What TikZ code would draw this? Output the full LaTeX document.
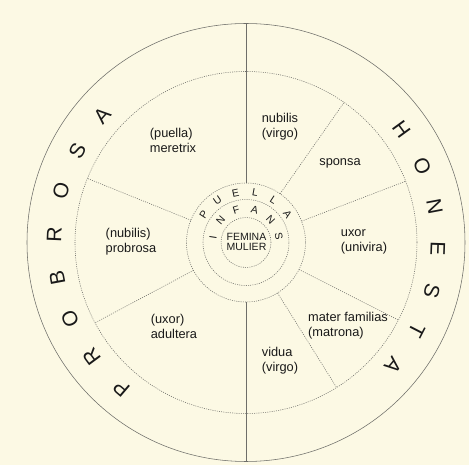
\documentclass[tikz,border=0pt]{standalone}
\usepackage{fontspec}
\setmainfont{Liberation Sans}
\usetikzlibrary{positioning}
\definecolor{paper}{RGB}{252,249,228}
\definecolor{ink}{RGB}{25,25,25}
\definecolor{rule}{RGB}{110,110,105}

\begin{document}
\begin{tikzpicture}[x=1pt,y=1pt,
 ring/.style={circle,draw=rule,line width=0.55pt,outer sep=0pt,inner sep=0pt},
 dotring/.style={ring,dash pattern=on 1pt off 1.2pt},
 spoke/.style={draw=rule,line width=0.55pt,dash pattern=on 1pt off 1.2pt},
 lab/.style={align=left,text=ink,font=\fontsize{12.8}{15}\selectfont,inner sep=0pt},
 big/.style={text=ink,font=\fontsize{21}{21}\selectfont,inner sep=0pt},
 small/.style={text=ink,font=\fontsize{10.5}{10}\selectfont,inner sep=0pt}]
\fill[paper] (-246,-222.5) rectangle (223,242.5);
\useasboundingbox (-246,-222.5) rectangle (223,242.5);
% rings
\node[ring,minimum size=438] (outer) at (0,0) {};
\node[dotring,minimum size=342] (mid) at (0,0) {};
\node[dotring,minimum size=119] (puella) at (0,0) {};
\node[dotring,minimum size=86] (infans) at (0,0) {};
\node[dotring,minimum size=50] (core) at (0,0) {};
% axis and spokes
\draw[draw=rule,line width=0.55pt] (puella.90) -- (outer.90);
\draw[draw=rule,line width=0.55pt] (puella.-90) -- (outer.-90);
\foreach \a in {55,21,-27,-58,158.5,208}
  \draw[spoke] (puella.\a) -- (mid.\a);
% sector labels
\node[lab] (meretrix) at (-73,102.5) {(puella)\\meretrix};
\node[lab] (nubilis) at (34,115.5) {nubilis\\(virgo)};
\node[lab] (sponsa) at (94,79.5) {sponsa};
\node[lab] (uxor) at (118,0.5) {uxor\\(univira)};
\node[lab] (mater) at (102,-83.5) {mater familias\\(matrona)};
\node[lab] (vidua) at (34,-118.5) {vidua\\(virgo)};
\node[lab] (probrosa) at (-115,0.5) {(nubilis)\\probrosa};
\node[lab] (adultera) at (-72,-83.5) {(uxor)\\adultera};
\node[small,align=center] (femina) at (0.5,0.5) {FEMINA\\MULIER};
% lettering round the rings
\foreach \l [count=\i from 0] in {H,O,N,E,S,T,A}
  \node[big,rotate={36-12.65*\i-90}] (hon\i) at ({36-12.65*\i}:192) {\l};
\foreach \l [count=\i from 0] in {P,R,O,B,R,O,S,A}
  \node[big,rotate={229.5-13*\i-90}] (pro\i) at ({229.5-13*\i}:192) {\l};
\foreach \l [count=\i from 0] in {P,U,E,L,L,A}
  \node[small,rotate={147-22.5*\i-90}] (pue\i) at ({147-22.5*\i}:50.5) {\l};
\foreach \l [count=\i from 0] in {I,N,F,A,N,S}
  \node[small,rotate={171-32*\i-90}] (inf\i) at ({171-32*\i}:33.5) {\l};
\end{tikzpicture}
\end{document}
